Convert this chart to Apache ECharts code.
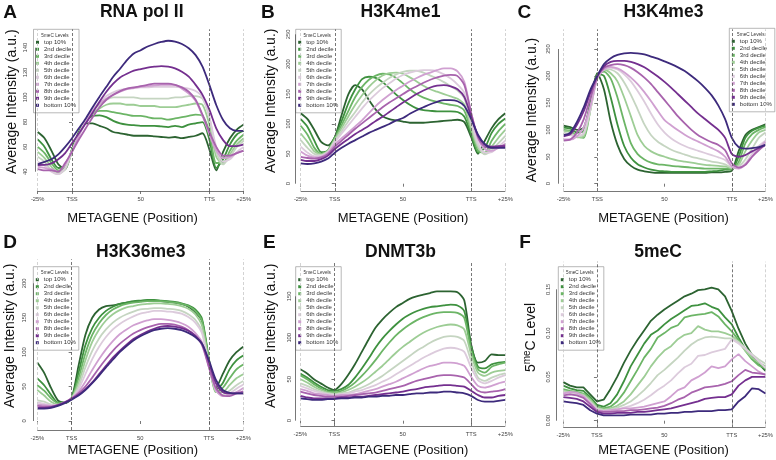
<!DOCTYPE html>
<html>
<head>
<meta charset="utf-8">
<script src="https://cdn.jsdelivr.net/npm/echarts@6/dist/echarts.min.js"></script>
<style>
  html, body { margin: 0; padding: 0; background: #fff; }
  #container { width: 776px; height: 460px; }
</style>
</head>
<body>
<div id="container"></div>
<script>
// metagene positions: -25% .. TSS(0) .. TTS(100) .. +25%
const positions = [-25, -20, -15, -10, -5, 0, 5, 10, 15, 20, 25, 30, 35, 40, 45, 50, 55, 60, 65, 70, 75, 80, 85, 90, 95, 100, 105, 110, 115, 120, 125];
const xTickValues = [-25, 0, 50, 100, 125];
const xTickLabels = ['-25%', 'TSS', '50', 'TTS', '+25%'];
const deciles = ['top 10%', '2nd decile', '3rd decile', '4th decile', '5th decile', '6th decile', '7th decile', '8th decile', '9th decile', 'bottom 10%'];
const titles = ['RNA pol II', 'H3K4me1', 'H3K4me3', 'H3K36me3', 'DNMT3b', '5meC'];
const letters = ['A', 'B', 'C', 'D', 'E', 'F'];

// one row per decile, top 10% first
const rnaPolII = [
    [72, 67, 57, 46, 42, 58, 72, 79, 79, 77, 75, 72, 71, 70, 69, 69, 69, 68.5, 68, 67.5, 68, 67, 68, 69, 71, 58, 41, 56, 67, 74, 78],
    [66, 60, 50, 43, 44, 58, 72, 81, 85, 85.5, 84, 81, 79, 78, 77.5, 77, 77, 77, 76.5, 76, 77, 76, 78, 79, 80, 66, 43, 50, 62, 70, 73],
    [60, 55, 47, 41, 43, 57, 71, 81, 87, 89, 89, 88, 87, 86, 85, 85, 84, 83, 83, 82, 83, 84, 85, 86, 85, 72, 47, 47, 57, 65, 70],
    [56, 51, 44, 39, 42, 56, 70, 80, 87, 91, 94, 95, 95, 94, 94, 93, 93, 93, 92, 92, 92, 93, 94, 95, 94, 78, 52, 46, 54, 62, 67],
    [52, 48, 41, 38, 42, 56, 70, 81, 89, 94, 98, 100, 100, 100, 100, 99, 99, 99, 99, 99, 100, 100, 101, 101, 99, 84, 56, 46, 52, 60, 65],
    [48, 45, 40, 38, 43, 57, 70, 82, 90, 96, 101, 104, 106, 107, 107.5, 108, 108, 108.5, 108.5, 108.5, 108.5, 108, 107, 105, 100, 84, 60, 48, 50, 56, 60],
    [44, 43, 42, 40, 46, 57, 69, 80, 89, 95, 99, 102, 104.5, 106.5, 107.5, 108.5, 109, 109.6, 110, 110, 110, 107, 103, 97, 85, 70, 57, 51, 52, 55, 57],
    [42, 41, 41, 40, 47, 56, 66, 75, 84, 92, 98, 102, 105, 107, 108, 109, 110, 111, 111, 111, 110, 108, 104.5, 98, 86, 72, 60, 53, 53, 55, 57],
    [45.4, 45.5, 46.7, 50, 55, 63, 71, 79, 87.6, 96.5, 104.5, 111, 116, 119, 121.5, 122.8, 124, 124.7, 125.2, 124.7, 123.3, 120.6, 116.6, 110, 102, 90, 75, 65.5, 60.7, 60.7, 62],
    [46, 48, 50, 54, 60, 67, 75, 83, 92, 100.5, 108.5, 116.6, 123, 130, 135.4, 138, 141, 143, 144.6, 145.6, 145, 143, 139.5, 134, 124.7, 110, 93.8, 81.7, 75, 73, 73]
];
const h3k4me1 = [
    [118, 108, 90, 70, 64, 78, 115, 150, 165, 158, 140, 124, 113, 108, 106, 104, 102, 102, 102, 103, 104, 105, 106, 107, 103, 78, 50, 72, 93, 108, 118],
    [108, 95, 72, 53, 56, 78, 105, 135, 158, 175, 179, 177, 170, 160, 149, 140, 132, 126, 123, 122, 121, 121, 121, 120, 112, 82, 52, 60, 85, 100, 109],
    [97, 82, 60, 50, 55, 76, 98, 122, 145, 162, 174, 181, 184, 183, 177, 168, 158, 150, 144, 140, 137, 134, 132, 130, 122, 88, 55, 52, 72, 88, 100],
    [84, 70, 54, 49, 55, 74, 93, 113, 132, 148, 162, 173, 181, 185, 186, 184, 178, 171, 164, 158, 154, 150, 146, 142, 132, 92, 60, 50, 62, 77, 90],
    [73, 60, 50, 48, 54, 72, 88, 105, 120, 136, 149, 160, 169, 177, 183, 187, 189, 189, 186, 181, 176, 170, 163, 156, 143, 98, 64, 49, 56, 68, 80],
    [62, 52, 46, 47, 53, 70, 84, 98, 112, 126, 139, 150, 160, 168, 176, 182, 186, 189, 190, 190, 188, 183, 176, 166, 152, 105, 68, 52, 53, 62, 72],
    [54, 47, 44, 45, 52, 66, 76, 86, 96, 106, 118, 130, 140, 149, 157, 164, 171, 177, 182, 186, 190, 193, 193, 188, 170, 118, 75, 58, 55, 60, 67],
    [45, 43, 42, 44, 50, 62, 72, 82, 92, 101, 110, 119, 128, 136, 143, 150, 157, 163, 169, 174, 178, 181, 182, 180, 165, 118, 78, 62, 60, 62, 65],
    [40, 38, 38, 41, 47, 58, 67, 75, 83, 90, 97, 105, 112, 120, 128, 136, 143, 150, 156, 161, 164, 165, 163, 158, 145, 112, 80, 66, 62, 63, 63],
    [34, 33, 34, 37, 42, 52, 60, 67, 73, 79, 85, 90, 95, 100, 106, 110, 117, 123, 128, 133, 137, 140, 140, 138, 130, 108, 82, 66, 60, 60, 60]
];
const h3k4me3 = [
    [108, 105, 100, 104, 150, 205, 175, 115, 72, 46, 33, 26, 23, 21, 20, 20, 20, 20, 20, 20, 20, 20, 21, 21, 22, 24, 60, 90, 100, 105, 110],
    [104, 102, 95, 98, 150, 203, 200, 160, 110, 70, 48, 36, 30, 26, 24, 23, 22, 22, 22, 22, 22, 22, 23, 24, 26, 26, 50, 85, 98, 104, 108],
    [100, 98, 88, 85, 140, 200, 208, 195, 160, 115, 75, 55, 45, 39, 36, 35, 33, 32, 31, 30, 29, 28, 28, 28, 28, 27, 40, 75, 92, 100, 105],
    [98, 96, 86, 88, 138, 200, 212, 205, 190, 160, 125, 90, 70, 60, 54, 50, 46, 43, 41, 39, 37, 35, 34, 33, 32, 29, 35, 60, 80, 95, 100],
    [95, 92, 88, 92, 138, 198, 213, 212, 205, 188, 165, 138, 110, 90, 78, 70, 63, 58, 54, 50, 47, 44, 41, 39, 36, 30, 32, 45, 65, 85, 95],
    [92, 90, 88, 95, 140, 196, 213, 215, 212, 203, 190, 172, 152, 130, 110, 95, 84, 76, 70, 65, 61, 57, 53, 49, 44, 32, 30, 38, 55, 70, 80],
    [82, 82, 88, 105, 145, 195, 212, 217, 214, 207, 197, 185, 170, 153, 135, 118, 108, 99, 91, 84, 78, 72, 66, 60, 50, 32, 28, 35, 50, 65, 78],
    [80, 82, 95, 120, 160, 198, 215, 220, 222, 220, 215, 207, 197, 185, 170, 155, 140, 125, 112, 100, 90, 83, 77, 72, 62, 38, 30, 35, 50, 62, 72],
    [88, 92, 110, 135, 170, 200, 218, 226, 228, 228, 226, 222, 216, 208, 199, 189, 178, 166, 154, 142, 130, 120, 110, 100, 85, 55, 50, 53, 60, 66, 72],
    [90, 95, 115, 142, 175, 200, 222, 233, 239, 242, 243, 242, 240, 236, 232, 227, 222, 216, 209, 200, 190, 178, 164, 145, 120, 85, 68, 65, 66, 68, 72]
];
const h3k36me3 = [
    [85, 70, 48, 30, 26, 33, 80, 125, 150, 162, 167, 168, 170, 172, 173, 174, 175, 175, 174, 173, 172, 170, 166, 158, 145, 85, 48, 68, 88, 100, 108],
    [62, 52, 38, 27, 27, 33, 70, 110, 135, 150, 160, 166, 170, 172, 174, 175, 176, 176, 175, 174, 173, 171, 168, 162, 148, 90, 45, 55, 75, 88, 95],
    [52, 44, 33, 26, 27, 33, 62, 98, 125, 142, 154, 162, 167, 170, 172, 173, 174, 174, 174, 173, 172, 170, 167, 160, 145, 88, 42, 48, 62, 75, 82],
    [45, 37, 28, 24, 27, 33, 55, 88, 115, 133, 146, 155, 161, 165, 167, 169, 170, 171, 171, 170, 169, 167, 163, 155, 138, 85, 42, 42, 52, 62, 68],
    [30, 28, 24, 23, 27, 33, 50, 78, 102, 120, 133, 143, 150, 155, 159, 162, 163, 164, 164, 163, 162, 160, 155, 147, 130, 82, 44, 38, 44, 52, 58],
    [27, 25, 23, 23, 27, 33, 46, 68, 90, 108, 122, 133, 141, 147, 152, 156, 158, 160, 160, 159, 158, 156, 151, 143, 127, 80, 45, 37, 40, 47, 53],
    [24, 23, 22, 23, 27, 33, 42, 57, 74, 90, 104, 116, 126, 133, 139, 143, 146, 148, 148, 147, 145, 142, 137, 128, 114, 78, 45, 36, 38, 42, 48],
    [22, 21, 21, 23, 27, 33, 40, 50, 63, 77, 90, 102, 112, 120, 127, 132, 136, 139, 141, 141, 140, 137, 132, 124, 110, 78, 48, 37, 36, 40, 43],
    [19, 19, 20, 23, 27, 32, 38, 46, 56, 68, 80, 92, 102, 111, 119, 125, 130, 134, 137, 138, 137, 135, 131, 124, 112, 85, 55, 42, 40, 40, 40],
    [18, 18, 19, 22, 26, 31, 37, 45, 55, 66, 78, 89, 100, 109, 117, 123, 128, 132, 134, 135, 134, 132, 128, 122, 112, 88, 60, 45, 41, 40, 40]
];
const dnmt3b = [
    [62, 57, 50, 45, 40, 37, 44, 55, 68, 83, 98, 112, 122, 130, 137, 142, 147, 150, 152, 154, 156, 156, 156, 155, 145, 92, 70, 72, 80, 79, 79],
    [57, 52, 46, 41, 37, 36, 38, 43, 52, 63, 75, 88, 99, 108, 116, 123, 128, 132, 135, 137, 138, 139, 140, 139, 132, 90, 65, 63, 68, 70, 71],
    [55, 50, 44, 39, 35, 34, 36, 40, 46, 54, 63, 73, 84, 94, 103, 110, 116, 121, 125, 128, 130, 131, 131, 130, 124, 85, 62, 58, 65, 68, 70],
    [50, 46, 41, 37, 34, 33, 34, 37, 41, 46, 52, 59, 66, 74, 82, 89, 95, 101, 106, 110, 113, 115, 116, 115, 110, 80, 58, 54, 58, 60, 61],
    [45, 42, 38, 35, 33, 32, 33, 34, 37, 40, 44, 49, 54, 60, 66, 72, 78, 84, 89, 94, 98, 101, 102, 101, 96, 72, 52, 48, 52, 55, 57],
    [42, 39, 36, 34, 32, 31, 32, 33, 35, 37, 40, 43, 47, 51, 56, 61, 66, 71, 76, 80, 84, 87, 88, 87, 83, 64, 49, 45, 48, 52, 55],
    [38, 36, 33, 32, 31, 30, 31, 31, 32, 34, 36, 38, 41, 44, 47, 51, 55, 59, 63, 66, 68, 70, 70, 69, 66, 53, 42, 40, 42, 45, 47],
    [35, 33, 31, 30, 29, 29, 29, 30, 31, 32, 33, 34, 36, 38, 40, 42, 45, 48, 50, 52, 54, 55, 55, 54, 52, 44, 36, 34, 35, 36, 38],
    [30, 28, 27, 27, 27, 27, 28, 28, 29, 29, 30, 31, 32, 33, 34, 35, 37, 38, 40, 41, 42, 43, 43, 42, 41, 36, 31, 28, 28, 30, 31],
    [27, 26, 25, 25, 26, 26, 27, 27, 28, 28, 29, 29, 30, 30, 31, 31, 32, 33, 33, 34, 34, 35, 35, 34, 33, 30, 25, 23, 23, 24, 25]
];
const meC = [
    [0.044, 0.040, 0.038, 0.038, 0.030, 0.022, 0.024, 0.036, 0.050, 0.066, 0.080, 0.092, 0.103, 0.114, 0.121, 0.127, 0.132, 0.137, 0.142, 0.145, 0.149, 0.150, 0.152, 0.150, 0.142, 0.125, 0.105, 0.088, 0.075, 0.065, 0.057],
    [0.040, 0.037, 0.035, 0.034, 0.027, 0.018, 0.016, 0.020, 0.030, 0.045, 0.062, 0.075, 0.088, 0.098, 0.103, 0.110, 0.116, 0.121, 0.126, 0.131, 0.132, 0.134, 0.130, 0.127, 0.118, 0.110, 0.095, 0.082, 0.072, 0.064, 0.058],
    [0.036, 0.034, 0.033, 0.031, 0.025, 0.016, 0.014, 0.016, 0.022, 0.032, 0.045, 0.058, 0.072, 0.082, 0.095, 0.100, 0.106, 0.109, 0.118, 0.120, 0.121, 0.122, 0.124, 0.119, 0.110, 0.102, 0.092, 0.080, 0.070, 0.063, 0.060],
    [0.034, 0.033, 0.032, 0.030, 0.024, 0.015, 0.013, 0.014, 0.017, 0.022, 0.030, 0.040, 0.050, 0.062, 0.072, 0.080, 0.085, 0.093, 0.098, 0.100, 0.108, 0.104, 0.102, 0.102, 0.100, 0.097, 0.090, 0.080, 0.072, 0.066, 0.062],
    [0.033, 0.032, 0.031, 0.029, 0.022, 0.014, 0.012, 0.013, 0.015, 0.018, 0.022, 0.028, 0.035, 0.043, 0.052, 0.058, 0.065, 0.072, 0.080, 0.087, 0.092, 0.095, 0.096, 0.095, 0.094, 0.094, 0.090, 0.083, 0.076, 0.070, 0.065],
    [0.032, 0.031, 0.030, 0.028, 0.021, 0.013, 0.011, 0.012, 0.013, 0.015, 0.017, 0.020, 0.024, 0.029, 0.035, 0.040, 0.046, 0.054, 0.061, 0.065, 0.074, 0.075, 0.078, 0.080, 0.082, 0.093, 0.088, 0.082, 0.075, 0.068, 0.060],
    [0.031, 0.033, 0.032, 0.028, 0.020, 0.012, 0.011, 0.012, 0.013, 0.014, 0.014, 0.015, 0.016, 0.018, 0.020, 0.022, 0.028, 0.035, 0.038, 0.046, 0.050, 0.055, 0.062, 0.060, 0.062, 0.070, 0.076, 0.068, 0.062, 0.056, 0.052],
    [0.029, 0.030, 0.029, 0.026, 0.019, 0.011, 0.010, 0.010, 0.011, 0.011, 0.012, 0.012, 0.013, 0.014, 0.015, 0.017, 0.020, 0.024, 0.027, 0.032, 0.035, 0.038, 0.039, 0.040, 0.042, 0.045, 0.052, 0.058, 0.055, 0.054, 0.053],
    [0.027, 0.026, 0.025, 0.022, 0.016, 0.010, 0.008, 0.008, 0.009, 0.009, 0.009, 0.010, 0.010, 0.011, 0.012, 0.013, 0.014, 0.016, 0.018, 0.020, 0.022, 0.025, 0.026, 0.027, 0.027, 0.030, 0.040, 0.046, 0.050, 0.050, 0.050],
    [0.022, 0.021, 0.020, 0.018, 0.012, 0.008, 0.006, 0.006, 0.006, 0.006, 0.007, 0.007, 0.007, 0.007, 0.008, 0.008, 0.009, 0.009, 0.010, 0.010, 0.011, 0.011, 0.011, 0.012, 0.012, 0.013, 0.022, 0.028, 0.037, 0.036, 0.031]
];
const panelData = [rnaPolII, h3k4me1, h3k4me3, h3k36me3, dnmt3b, meC];
const yTicks = [
    [40, 60, 80, 100, 120, 140],
    [0, 50, 100, 150, 200, 250],
    [0, 50, 100, 150, 200, 250],
    [0, 50, 100, 150, 200],
    [0, 50, 100, 150],
    [0, 0.05, 0.10, 0.15]
];

const colors = ['#2c6331', '#3e913f', '#6cb566', '#9dcd95', '#c5d5c1', '#dccbdc', '#d0a0d1', '#a863ad', '#742f8f', '#3d2a7c'];
const FONT = '"Liberation Sans", Arial, Helvetica, sans-serif';

// panel layout in pixels (grid box, axis extent, text anchors)
const layout = [
    { l: 35.7, t: 29.3, w: 208, h: 161.7, xmin: -26.46, ymin: 24.44, ymax: 154.84, lm: 7.3, title: [141.7, 12.5], letter: [3.3, 12.5], xt: [132.5, 218.3], yt: [11.7, 101.7], lg: [33.5, 29.3] },
    { l: 295.3, t: 29.3, w: 210, h: 161.7, xmin: -28.96, ymin: -12.2, ymax: 258.4, lm: 3.6, title: [400.5, 12.5], letter: [261, 12.5], xt: [403, 218.3], yt: [270.7, 100.8], lg: [295.7, 29.3] },
    { l: 558.3, t: 29.3, w: 210, h: 161.7, xmin: -28.96, ymin: -13.55, ymax: 286.6, lm: 6.9, title: [663.5, 12.5], letter: [517.5, 12.5], xt: [663.5, 218.3], yt: [532, 110], lg: [729.3, 28.3] },
    { l: 33.3, t: 259.3, w: 210, h: 170.7, xmin: -27.91, ymin: -13.07, ymax: 234.9, lm: 6.3, title: [140.8, 252.5], letter: [3.3, 242.5], xt: [132.8, 450], yt: [10, 335.8], lg: [33.3, 266.7] },
    { l: 295.3, t: 263, w: 210, h: 163, xmin: -28.66, ymin: -6.39, ymax: 190.2, lm: 2.5, title: [400.5, 252.5], letter: [263, 242.5], xt: [403, 450], yt: [270.7, 335.8], lg: [295.7, 266.7] },
    { l: 556.7, t: 261.7, w: 211.6, h: 165.6, xmin: -29.83, ymin: -0.00753, ymax: 0.1815, lm: 5.3, title: [658, 252.5], letter: [519.3, 242.5], xt: [663.5, 450], yt: [531, 337.5], lg: [558.3, 266.7] }
];

const myChart = echarts.init(document.getElementById('container'));

const grid = [], xAxis = [], yAxis = [], series = [], legend = [], graphic = [];

layout.forEach((p, i) => {
    const ticks = yTicks[i];
    grid.push({ left: p.l, top: p.t, width: p.w, height: p.h });
    xAxis.push({
        type: 'value', gridIndex: i, min: p.xmin, max: 125,
        axisLine: { show: false },
        splitLine: { show: false },
        axisTick: { customValues: xTickValues, length: 3, lineStyle: { color: '#555', width: 0.8 } },
        axisLabel: {
            customValues: xTickValues, margin: 5, fontSize: 5.8, color: '#444', fontFamily: FONT,
            formatter: v => xTickLabels[xTickValues.indexOf(v)]
        }
    });
    yAxis.push({
        type: 'value', gridIndex: i, min: p.ymin, max: p.ymax,
        axisLine: { show: false },
        splitLine: { show: false },
        axisTick: { customValues: ticks, length: 3, lineStyle: { color: '#555', width: 0.8 } },
        axisLabel: {
            customValues: ticks, rotate: 90, margin: p.lm, fontSize: 5.8, color: '#444', fontFamily: FONT,
            formatter: v => (i === 5 ? v.toFixed(2) : String(v))
        }
    });

    panelData[i].forEach((vals, d) => {
        const s = {
            type: 'line', name: deciles[d], xAxisIndex: i, yAxisIndex: i,
            data: positions.map((x, k) => [x, vals[k]]),
            symbol: 'none', smooth: i === 5 ? false : 0.25, clip: false,
            lineStyle: { width: 1.8, color: colors[d] },
            itemStyle: { color: colors[d] },
            emphasis: { disabled: true }
        };
        if (d === 0) {
            s.markLine = {
                silent: true, symbol: ['none', 'none'], label: { show: false },
                lineStyle: { type: [3, 2], width: 0.8, color: '#555' },
                data: [
                    { xAxis: -25, lineStyle: { color: '#c8c8c8' } },
                    { xAxis: 0 },
                    { xAxis: 100 },
                    { xAxis: 125, lineStyle: { color: '#c8c8c8' } },
                    [{ coord: [p.xmin, ticks[0]], lineStyle: { type: 'solid', color: '#555' } }, { coord: [p.xmin, ticks[ticks.length - 1]] }],
                    [{ coord: [-25, p.ymin], lineStyle: { type: 'solid', color: '#555' } }, { coord: [125, p.ymin] }]
                ]
            };
        }
        series.push(s);
    });

    legend.push({
        orient: 'vertical', left: p.lg[0], top: p.lg[1],
        padding: [9.5, 3, 4, 2.5], itemWidth: 3, itemHeight: 3, itemGap: 0,
        icon: 'rect', selectedMode: false, data: deciles,
        itemStyle: { borderWidth: 0 },
        textStyle: { fontSize: 6, lineHeight: 7, color: '#333', fontFamily: FONT },
        borderColor: '#888', borderWidth: 0.6, backgroundColor: '#fff'
    });

    graphic.push(
        { type: 'text', z: 100, x: p.lg[0] + 21.5, y: p.lg[1] + 6, style: { text: '5meC Levels', font: '4.7px ' + FONT, fill: '#333', align: 'center', verticalAlign: 'middle', textAlign: 'center', textVerticalAlign: 'middle' } },
        { type: 'text', x: p.letter[0], y: p.letter[1], style: { text: letters[i], font: 'bold 19px ' + FONT, fill: '#111', align: 'left', verticalAlign: 'middle', textAlign: 'left', textVerticalAlign: 'middle' } },
        { type: 'text', x: p.title[0], y: p.title[1], style: { text: titles[i], font: 'bold 17.5px ' + FONT, fill: '#111', align: 'center', verticalAlign: 'middle', textAlign: 'center', textVerticalAlign: 'middle' } },
        { type: 'text', x: p.xt[0], y: p.xt[1], style: { text: 'METAGENE (Position)', font: '13px ' + FONT, fill: '#111', align: 'center', verticalAlign: 'middle', textAlign: 'center', textVerticalAlign: 'middle' } }
    );
    if (i === 5) {
        graphic.push({
            type: 'text', x: p.yt[0], y: p.yt[1], rotation: Math.PI / 2,
            style: {
                text: '{b|5}{s|me}{b|C Level}', align: 'center', verticalAlign: 'middle', textAlign: 'center', textVerticalAlign: 'middle',
                rich: {
                    b: { fontSize: 14, fontFamily: FONT, fill: '#111', color: '#111' },
                    s: { fontSize: 10, fontFamily: FONT, fill: '#111', color: '#111', padding: [0, 0, 8, 0] }
                }
            }
        });
    } else {
        graphic.push({
            type: 'text', x: p.yt[0], y: p.yt[1], rotation: Math.PI / 2,
            style: { text: 'Average Intensity (a.u.)', font: '14px ' + FONT, fill: '#111', align: 'center', verticalAlign: 'middle', textAlign: 'center', textVerticalAlign: 'middle' }
        });
    }
});

const option = {
    animation: false,
    backgroundColor: '#fff',
    grid: grid,
    xAxis: xAxis,
    yAxis: yAxis,
    legend: legend,
    graphic: graphic,
    series: series
};
myChart.setOption(option);
window.addEventListener('resize', () => {
    myChart.resize()
})
</script>
</body>
</html>
